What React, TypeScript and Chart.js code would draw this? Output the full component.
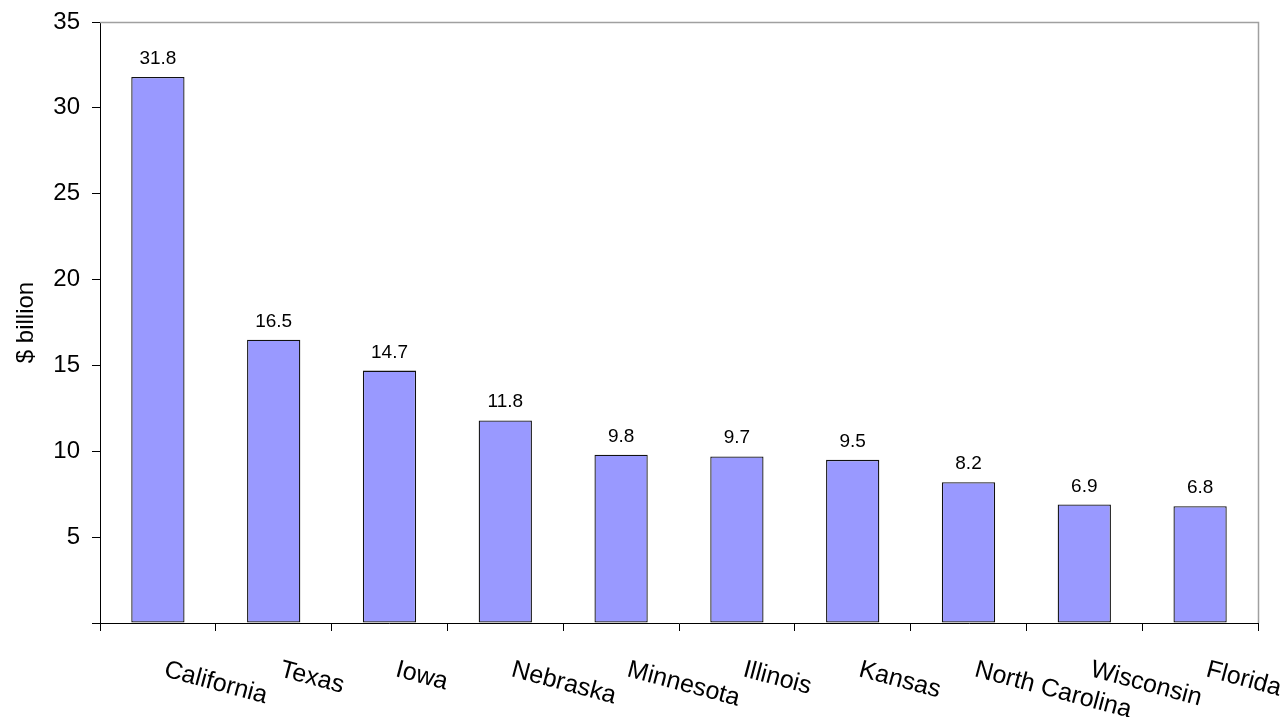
import React, { useEffect, useRef } from "react";
import { Chart, registerables } from "chart.js";

Chart.register(...registerables);

const states = [
  "California",
  "Texas",
  "Iowa",
  "Nebraska",
  "Minnesota",
  "Illinois",
  "Kansas",
  "North Carolina",
  "Wisconsin",
  "Florida",
];
const values = [31.8, 16.5, 14.7, 11.8, 9.8, 9.7, 9.5, 8.2, 6.9, 6.8];
const yTicks = [0, 5, 10, 15, 20, 25, 30, 35];
const yTitle = "$ billion";

const FONT = "'Liberation Sans', Arial, Helvetica, sans-serif";

// Gray frame on the top and right side of the plot area
const frame = {
  id: "frame",
  afterDatasetsDraw(chart: any) {
    const { ctx, chartArea } = chart;
    ctx.save();
    ctx.strokeStyle = "#a0a0a0";
    ctx.lineWidth = 1.5;
    ctx.beginPath();
    ctx.moveTo(chartArea.left, chartArea.top + 0.5);
    ctx.lineTo(chartArea.right + 0.5, chartArea.top + 0.5);
    ctx.lineTo(chartArea.right + 0.5, chartArea.bottom);
    ctx.stroke();
    ctx.restore();
  },
};

// Value printed above each bar
const barValues = {
  id: "barValues",
  afterDatasetsDraw(chart: any) {
    const { ctx } = chart;
    const meta = chart.getDatasetMeta(0);
    ctx.save();
    ctx.fillStyle = "#000";
    ctx.font = `19px ${FONT}`;
    ctx.textAlign = "center";
    ctx.textBaseline = "alphabetic";
    meta.data.forEach((bar: any, i: number) => {
      ctx.fillText(values[i].toFixed(1), bar.x, bar.y - 13);
    });
    ctx.restore();
  },
};

// Category names slanting downward to the right under the axis
const slantedLabels = {
  id: "slantedLabels",
  afterDraw(chart: any) {
    const { ctx } = chart;
    const xs = chart.scales.x;
    const base = chart.chartArea.bottom + 53;
    ctx.save();
    ctx.fillStyle = "#000";
    ctx.font = `25px ${FONT}`;
    ctx.textAlign = "left";
    ctx.textBaseline = "alphabetic";
    states.forEach((name, i) => {
      const x = xs.getPixelForValue(i) + 5;
      ctx.save();
      ctx.translate(x, base);
      ctx.rotate((15 * Math.PI) / 180);
      ctx.fillText(name, 0, 0);
      ctx.restore();
    });
    ctx.restore();
  },
};

export default function App() {
  const canvasRef = useRef<HTMLCanvasElement | null>(null);

  useEffect(() => {
    const canvas = canvasRef.current;
    if (!canvas) return;
    const chart = new Chart(canvas, {
      type: "bar",
      data: {
        labels: states,
        datasets: [
          {
            data: values,
            backgroundColor: "#9999ff",
            borderColor: "#111",
            borderWidth: 1.3,
            borderSkipped: false,
            barPercentage: 0.46,
            categoryPercentage: 1,
          },
        ],
      },
      options: {
        responsive: false,
        animation: false,
        devicePixelRatio: 1,
        layout: { padding: { top: 22, right: 30, left: 0, bottom: 0 } },
        plugins: {
          legend: { display: false },
          tooltip: { enabled: false },
        },
        scales: {
          x: {
            type: "category",
            offset: true,
            grid: {
              offset: true,
              drawOnChartArea: false,
              drawTicks: true,
              tickLength: 8,
              color: "#000",
            },
            border: { display: true, color: "#000", width: 1 },
            ticks: { display: false },
            afterFit(scale: any) {
              scale.height = 94;
              scale.paddingLeft = 0;
              scale.paddingRight = 0;
            },
          },
          y: {
            type: "linear",
            min: 0,
            max: 35,
            afterBuildTicks(scale: any) {
              scale.ticks = yTicks.map((v) => ({ value: v }));
            },
            grid: {
              drawOnChartArea: false,
              drawTicks: true,
              tickLength: 8,
              color: "#000",
            },
            border: { display: true, color: "#000", width: 1 },
            ticks: {
              color: "#000",
              padding: 12,
              font: { family: FONT, size: 24 },
              callback: (v: any) => (v === 0 ? "" : String(v)),
            },
            title: {
              display: true,
              text: yTitle,
              color: "#000",
              font: { family: FONT, size: 24 },
              padding: { top: 12, bottom: 0 },
            },
            afterFit(scale: any) {
              scale.width = 100;
              scale.paddingTop = 0;
              scale.paddingBottom = 0;
            },
          },
        },
      },
      plugins: [frame, barValues, slantedLabels],
    });
    return () => chart.destroy();
  }, []);

  return (
    <div style={{ position: "fixed", left: 0, top: 0, width: 1288, height: 717, background: "#fff" }}>
      <canvas ref={canvasRef} width={1288} height={717} style={{ display: "block" }} />
    </div>
  );
}
